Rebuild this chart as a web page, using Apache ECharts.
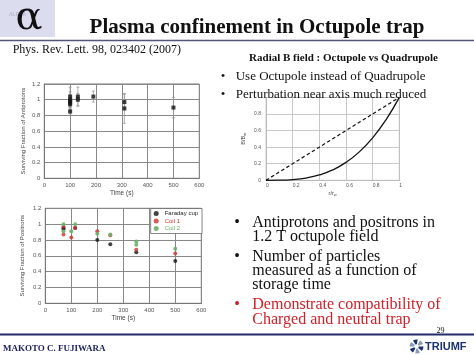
<!DOCTYPE html>
<html><head><meta charset="utf-8">
<script src="https://cdn.jsdelivr.net/npm/echarts@6/dist/echarts.min.js"></script>
<style>html,body{margin:0;padding:0;background:#fff}#c{width:474px;height:355px}</style>
</head><body><div id="c"></div>
<script>
// ---------- data ----------
var timeTicks = [0, 100, 200, 300, 400, 500, 600];
var fracTicks = [0, 0.2, 0.4, 0.6, 0.8, 1, 1.2];
// Antiprotons
var apTime = [100, 100, 100, 100, 100, 100, 130, 130, 190, 310, 310, 500];
var apFrac = [1.04, 1.00, 0.98, 0.96, 0.94, 0.85, 1.04, 1.00, 1.04, 0.97, 0.89, 0.90];
var apErr  = [0.12, 0.10, 0.08, 0.08, 0.08, 0.03, 0.12, 0.08, 0.07, 0.10, 0.19, 0.13];
// Positrons
var faradayTime = [70, 70, 115, 200, 250, 350, 500];
var faradayFrac = [0.94, 0.95, 0.95, 0.80, 0.745, 0.645, 0.535];
var coil1Time = [70, 70, 100, 115, 200, 250, 350, 500];
var coil1Frac = [0.97, 0.87, 0.83, 0.95, 0.91, 0.86, 0.675, 0.63];
var coil2Time = [70, 70, 100, 115, 200, 250, 350, 350, 500];
var coil2Frac = [1.00, 0.91, 0.91, 1.00, 0.88, 0.87, 0.78, 0.74, 0.69];
// Radial B field
var rRatio = [0, 0.1, 0.2, 0.3, 0.4, 0.5, 0.6, 0.7, 0.8, 0.9, 1.0];
var bOctupole = [0, 0.001, 0.008, 0.027, 0.064, 0.125, 0.216, 0.343, 0.512, 0.729, 1.0];
var bQuadrupole = [0, 0.1, 0.2, 0.3, 0.4, 0.5, 0.6, 0.7, 0.8, 0.9, 1.0];

function zip(a, b) { return a.map(function (v, i) { return [v, b[i]]; }); }

var SERIF = '"Liberation Serif", "Times New Roman", serif';
var SANS = '"Liberation Sans", Arial, sans-serif';
var tickLbl = { fontSize: 6, color: '#555', fontFamily: SANS, margin: 4 };

function timeAxis(gi) {
  return {
    gridIndex: gi, type: 'value', min: 0, max: 600, interval: 100,
    name: 'Time (s)', nameLocation: 'middle', nameGap: 11,
    nameTextStyle: { fontSize: 6.5, color: '#444', fontFamily: SANS },
    axisLine: { show: true, lineStyle: { color: '#777', width: 1 } },
    axisTick: { show: false },
    axisLabel: tickLbl,
    splitLine: { show: true, lineStyle: { color: '#888', width: 1 } }
  };
}
function fracAxis(gi, name, gap) {
  return {
    gridIndex: gi, type: 'value', min: 0, max: 1.2, interval: 0.2,
    name: name, nameLocation: 'middle', nameGap: gap,
    nameTextStyle: { fontSize: 6, color: '#444', fontFamily: SANS },
    axisLine: { show: true, lineStyle: { color: '#777', width: 1 } },
    axisTick: { show: false },
    axisLabel: Object.assign({}, tickLbl, { formatter: function (v) { return String(+v.toFixed(1)); } }),
    splitLine: { show: true, lineStyle: { color: '#888', width: 1 } }
  };
}

var chart = echarts.init(document.getElementById('c'), null, { renderer: 'canvas' });

// text placed by its baseline (converted to middle alignment)
function txt(x, baseline, text, size, opts, weight) {
  opts = opts || {};
  return {
    type: 'text', x: x, y: baseline - 0.28 * size, z: 100,
    style: {
      text: text, font: (weight ? weight + ' ' : '') + size + 'px ' + (opts.family || SERIF),
      fill: opts.fill || '#111', align: opts.align || 'left', verticalAlign: 'middle'
    }
  };
}
var RED = '#d0202a';

var graphics = [
  { type: 'rect', shape: { x: 0, y: 0, width: 55, height: 37 }, style: { fill: '#dcdcef' }, z: 1 },
  { type: 'text', x: 9, y: 15, z: 2, style: { text: 'ALPHA', font: 'bold 5px ' + SANS, fill: '#b8b8cc', verticalAlign: 'middle' } },
  { type: 'text', x: 29, y: 19, z: 3, style: { text: '\u03B1', font: '40px "DejaVu Serif", serif', fill: '#111', align: 'center', verticalAlign: 'middle' } },
  txt(257, 33.3, 'Plasma confinement in Octupole trap', 21, { align: 'center' }, 'bold'),
  { type: 'line', shape: { x1: 0, y1: 40.5, x2: 474, y2: 40.5 }, style: { stroke: '#55557a', lineWidth: 1.5 }, z: 50 },
  txt(12.7, 53.3, 'Phys. Rev. Lett. 98, 023402 (2007)', 12),
  txt(343.5, 61.7, 'Radial B field : Octupole vs Quadrupole', 11, { align: 'center' }, 'bold'),
  txt(220.7, 80, '\u2022', 13), txt(235.7, 80, 'Use Octupole instead of Quadrupole', 13),
  txt(220.7, 98.3, '\u2022', 13), txt(235.7, 98.3, 'Perturbation near axis much reduced', 13),
  txt(234.3, 227.7, '\u2022', 16), txt(252.3, 227.7, 'Antiprotons and positrons in', 16),
  txt(252.3, 241.7, '1.2 T octupole field', 16),
  txt(234.3, 261.7, '\u2022', 16), txt(252.3, 261.7, 'Number of particles', 16),
  txt(252.3, 275.7, 'measured as a function of', 16),
  txt(252.3, 289.5, 'storage time', 16),
  txt(234.3, 309.3, '\u2022', 16, { fill: RED }), txt(252.3, 309.3, 'Demonstrate compatibility of', 16, { fill: RED }),
  txt(252.3, 324, 'Charged and neutral trap', 16, { fill: RED }),
  txt(440.5, 333, '29', 8, { align: 'center' }),
  { type: 'line', shape: { x1: 0, y1: 334.5, x2: 474, y2: 334.5 }, style: { stroke: '#222a6a', lineWidth: 2 }, z: 50 },
  txt(3, 351.5, 'MAKOTO C. FUJIWARA', 9, { fill: '#1a1f5c' }, 'bold'),
  txt(425, 350.5, 'TRIUMF', 11, { fill: '#1c3370', family: SANS }, 'bold')
];
// TRIUMF pinwheel icon
for (var k = 0; k < 6; k++) {
  var a0 = k * Math.PI / 3;
  graphics.push({ type: 'sector', z: 100, shape: { cx: 416.5, cy: 346.5, r: 7, r0: 2.2, startAngle: a0, endAngle: a0 + Math.PI / 4.5 },
    style: { fill: k % 2 ? '#8a9bb8' : '#1c3370' } });
}

var option = {
  animation: false,
  backgroundColor: '#fff',
  graphic: { elements: graphics },
  grid: [
    { left: 44.3, top: 84, width: 155, height: 94.3, show: true, borderColor: '#777', borderWidth: 1, containLabel: false },
    { left: 45.3, top: 208.3, width: 156, height: 95, show: true, borderColor: '#777', borderWidth: 1, containLabel: false },
    { left: 266, top: 97.4, width: 133.3, height: 82.9, show: true, borderColor: '#bbb', borderWidth: 0.8, containLabel: false }
  ],
  xAxis: [
    timeAxis(0), timeAxis(1),
    { gridIndex: 2, type: 'value', min: 0, max: 1, interval: 0.2,
      name: 'r/r{s|w}', nameLocation: 'middle', nameGap: 9,
      nameTextStyle: { fontSize: 5.5, color: '#444', fontFamily: SANS, rich: { s: { fontSize: 4, verticalAlign: 'bottom', padding: [4, 0, 0, 0] } } },
      axisLine: { show: true, lineStyle: { color: '#bbb', width: 0.8 } }, axisTick: { show: false },
      axisLabel: { fontSize: 5, color: '#555', fontFamily: SANS, margin: 3, align: 'left',
        formatter: function (v) { return String(+v.toFixed(1)); } },
      splitLine: { show: true, lineStyle: { color: '#bbb', width: 0.8 } } }
  ],
  yAxis: [
    fracAxis(0, 'Surviving Fraction of Antiprotons', 18),
    fracAxis(1, 'Surviving Fraction of Positrons', 20),
    { gridIndex: 2, type: 'value', min: 0, max: 1, interval: 0.2,
      name: 'B/B{s|w}', nameLocation: 'middle', nameGap: 19,
      nameTextStyle: { fontSize: 5.5, color: '#444', fontFamily: SANS, rich: { s: { fontSize: 4, padding: [4, 0, 0, 0] } } },
      axisLine: { show: true, lineStyle: { color: '#bbb', width: 0.8 } }, axisTick: { show: false },
      axisLabel: { fontSize: 5, color: '#555', fontFamily: SANS, margin: 5,
        formatter: function (v) { return v === 1 ? '' : String(+v.toFixed(1)); } },
      splitLine: { show: true, lineStyle: { color: '#bbb', width: 0.8 } } }
  ],
  legend: {
    data: [
      { name: 'Faraday cup', textStyle: { color: '#222' } },
      { name: 'Coil 1', textStyle: { color: '#d03030' } },
      { name: 'Coil 2', textStyle: { color: '#6ab06a' } }
    ],
    orient: 'vertical', left: 150.7, top: 208.5, itemWidth: 5, itemHeight: 5, itemGap: 1.5,
    padding: [2, 4, 2, 3], backgroundColor: '#fff', borderColor: '#666', borderWidth: 0.8,
    textStyle: { fontSize: 6, fontFamily: SANS, padding: [0, 0, 0, 1] }, icon: 'circle', z: 20
  },
  series: [
    { type: 'custom', xAxisIndex: 0, yAxisIndex: 0, silent: true, z: 3,
      data: apTime.map(function (t, i) { return [t, apFrac[i] - apErr[i], apFrac[i] + apErr[i]]; }),
      renderItem: function (params, api) {
        var lo = api.coord([api.value(0), api.value(1)]);
        var hi = api.coord([api.value(0), api.value(2)]);
        var st = { stroke: '#999', lineWidth: 0.8 };
        return { type: 'group', children: [
          { type: 'line', shape: { x1: lo[0], y1: lo[1], x2: hi[0], y2: hi[1] }, style: st },
          { type: 'line', shape: { x1: lo[0] - 1.5, y1: lo[1], x2: lo[0] + 1.5, y2: lo[1] }, style: st },
          { type: 'line', shape: { x1: hi[0] - 1.5, y1: hi[1], x2: hi[0] + 1.5, y2: hi[1] }, style: st }
        ] };
      } },
    { type: 'scatter', xAxisIndex: 0, yAxisIndex: 0, symbol: 'rect', symbolSize: 4, z: 5,
      itemStyle: { color: '#111' }, data: zip(apTime, apFrac) },
    { name: 'Faraday cup', type: 'scatter', xAxisIndex: 1, yAxisIndex: 1, symbol: 'circle', symbolSize: 4, z: 5,
      itemStyle: { color: '#111' }, data: zip(faradayTime, faradayFrac) },
    { name: 'Coil 1', type: 'scatter', xAxisIndex: 1, yAxisIndex: 1, symbol: 'circle', symbolSize: 4, z: 5,
      itemStyle: { color: '#d03030' }, data: zip(coil1Time, coil1Frac) },
    { name: 'Coil 2', type: 'scatter', xAxisIndex: 1, yAxisIndex: 1, symbol: 'circle', symbolSize: 4, z: 5,
      itemStyle: { color: '#6ab06a', opacity: 0.9 }, data: zip(coil2Time, coil2Frac) },
    { type: 'line', xAxisIndex: 2, yAxisIndex: 2, showSymbol: false, smooth: true, z: 5,
      lineStyle: { color: '#111', width: 1.3 }, data: zip(rRatio, bOctupole) },
    { type: 'line', xAxisIndex: 2, yAxisIndex: 2, showSymbol: false, z: 5,
      lineStyle: { color: '#111', width: 1.2, type: [3.5, 2.5] }, data: zip(rRatio, bQuadrupole) }
  ]
};
chart.setOption(option);
</script>
</body></html>
